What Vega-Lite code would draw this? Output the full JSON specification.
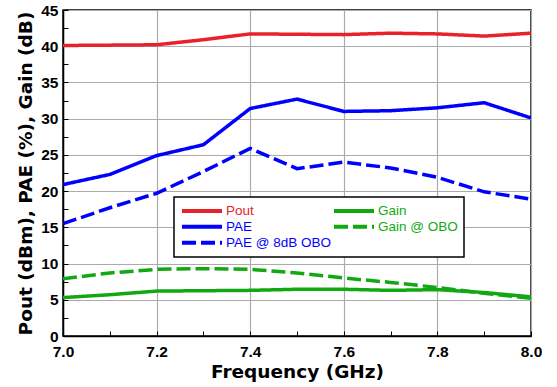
{
  "$schema": "https://vega.github.io/schema/vega-lite/v6.json",
  "width": 468,
  "height": 326,
  "autosize": {"type": "none"},
  "padding": {"left": 63, "top": 10, "right": 26, "bottom": 51},
  "background": "white",
  "config": {
    "font": "Liberation Sans",
    "view": {"stroke": "black", "strokeWidth": 1.5},
    "axis": {
      "labelFont": "Liberation Sans",
      "labelFontWeight": "bold",
      "labelFontSize": 15.5,
      "labelColor": "black",
      "titleFont": "DejaVu Sans",
      "titleFontWeight": "bold",
      "titleFontSize": 18.5,
      "titleColor": "black",
      "domainColor": "black",
      "domainWidth": 1.5,
      "tickColor": "black",
      "tickWidth": 1,
      "gridColor": "#ababab",
      "gridWidth": 1.2
    }
  },
  "data": {
    "values": [
      {"freq": 7.0, "series": "Pout", "value": 40.1},
      {"freq": 7.1, "series": "Pout", "value": 40.15},
      {"freq": 7.2, "series": "Pout", "value": 40.2},
      {"freq": 7.3, "series": "Pout", "value": 40.9},
      {"freq": 7.4, "series": "Pout", "value": 41.7},
      {"freq": 7.5, "series": "Pout", "value": 41.65},
      {"freq": 7.6, "series": "Pout", "value": 41.6},
      {"freq": 7.7, "series": "Pout", "value": 41.8},
      {"freq": 7.8, "series": "Pout", "value": 41.7},
      {"freq": 7.9, "series": "Pout", "value": 41.4},
      {"freq": 8.0, "series": "Pout", "value": 41.8},
      {"freq": 7.0, "series": "PAE", "value": 20.9},
      {"freq": 7.1, "series": "PAE", "value": 22.3},
      {"freq": 7.2, "series": "PAE", "value": 24.9},
      {"freq": 7.3, "series": "PAE", "value": 26.4},
      {"freq": 7.4, "series": "PAE", "value": 31.4},
      {"freq": 7.5, "series": "PAE", "value": 32.7},
      {"freq": 7.6, "series": "PAE", "value": 31.0},
      {"freq": 7.7, "series": "PAE", "value": 31.1},
      {"freq": 7.8, "series": "PAE", "value": 31.5},
      {"freq": 7.9, "series": "PAE", "value": 32.2},
      {"freq": 8.0, "series": "PAE", "value": 30.1},
      {"freq": 7.0, "series": "PAE @ 8dB OBO", "value": 15.5},
      {"freq": 7.1, "series": "PAE @ 8dB OBO", "value": 17.7},
      {"freq": 7.2, "series": "PAE @ 8dB OBO", "value": 19.7},
      {"freq": 7.3, "series": "PAE @ 8dB OBO", "value": 22.7},
      {"freq": 7.4, "series": "PAE @ 8dB OBO", "value": 25.9},
      {"freq": 7.5, "series": "PAE @ 8dB OBO", "value": 23.1},
      {"freq": 7.6, "series": "PAE @ 8dB OBO", "value": 24.0},
      {"freq": 7.7, "series": "PAE @ 8dB OBO", "value": 23.2},
      {"freq": 7.8, "series": "PAE @ 8dB OBO", "value": 21.9},
      {"freq": 7.9, "series": "PAE @ 8dB OBO", "value": 19.9},
      {"freq": 8.0, "series": "PAE @ 8dB OBO", "value": 18.9},
      {"freq": 7.0, "series": "Gain", "value": 5.3},
      {"freq": 7.1, "series": "Gain", "value": 5.7},
      {"freq": 7.2, "series": "Gain", "value": 6.2},
      {"freq": 7.3, "series": "Gain", "value": 6.25},
      {"freq": 7.4, "series": "Gain", "value": 6.3},
      {"freq": 7.5, "series": "Gain", "value": 6.45},
      {"freq": 7.6, "series": "Gain", "value": 6.45},
      {"freq": 7.7, "series": "Gain", "value": 6.3},
      {"freq": 7.8, "series": "Gain", "value": 6.4},
      {"freq": 7.9, "series": "Gain", "value": 6.0},
      {"freq": 8.0, "series": "Gain", "value": 5.4},
      {"freq": 7.0, "series": "Gain @ OBO", "value": 7.9},
      {"freq": 7.1, "series": "Gain @ OBO", "value": 8.7},
      {"freq": 7.2, "series": "Gain @ OBO", "value": 9.2},
      {"freq": 7.3, "series": "Gain @ OBO", "value": 9.3},
      {"freq": 7.4, "series": "Gain @ OBO", "value": 9.2},
      {"freq": 7.5, "series": "Gain @ OBO", "value": 8.7},
      {"freq": 7.6, "series": "Gain @ OBO", "value": 8.0},
      {"freq": 7.7, "series": "Gain @ OBO", "value": 7.4},
      {"freq": 7.8, "series": "Gain @ OBO", "value": 6.7},
      {"freq": 7.9, "series": "Gain @ OBO", "value": 5.9},
      {"freq": 8.0, "series": "Gain @ OBO", "value": 5.2}
    ]
  },
  "mark": {"type": "line", "strokeWidth": 3.5, "interpolate": "linear", "clip": true},
  "encoding": {
    "x": {
      "field": "freq",
      "type": "quantitative",
      "title": "Frequency (GHz)",
      "scale": {"domain": [7.0, 8.0], "nice": false, "zero": false},
      "axis": {
        "values": [7.0, 7.1, 7.2, 7.3, 7.4, 7.5, 7.6, 7.7, 7.8, 7.9, 8.0],
        "format": ".1f",
        "labelOverlap": false,
        "labelFlush": false,
        "tickSize": -5,
        "labelPadding": 13,
        "titlePadding": 3,
        "labelOpacity": {"condition": {"test": "round(datum.value*10) % 2 === 0", "value": 1}, "value": 0},
        "gridOpacity": {"condition": {"test": "round(datum.value*10) % 2 === 0", "value": 1}, "value": 0}
      }
    },
    "y": {
      "field": "value",
      "type": "quantitative",
      "title": "Pout (dBm), PAE (%), Gain (dB)",
      "scale": {"domain": [0, 45], "nice": false},
      "axis": {
        "values": [0, 2.5, 5, 7.5, 10, 12.5, 15, 17.5, 20, 22.5, 25, 27.5, 30, 32.5, 35, 37.5, 40, 42.5, 45],
        "labelOverlap": false,
        "labelFlush": false,
        "tickSize": -5,
        "labelPadding": 10,
        "titlePadding": 5,
        "labelOpacity": {"condition": {"test": "datum.value % 5 === 0", "value": 1}, "value": 0},
        "gridOpacity": {"condition": {"test": "datum.value % 5 === 0", "value": 1}, "value": 0}
      }
    },
    "color": {
      "field": "series",
      "type": "nominal",
      "scale": {
        "domain": ["Pout", "PAE", "PAE @ 8dB OBO", "Gain", "Gain @ OBO"],
        "range": ["#e8212b", "#0000ff", "#0000ff", "#11a811", "#11a811"]
      },
      "legend": {
        "title": null,
        "orient": "none",
        "legendX": 111,
        "legendY": 187,
        "columns": 2,
        "columnPadding": 1,
        "rowPadding": 0,
        "symbolType": "stroke",
        "symbolSize": 1600,
        "symbolStrokeWidth": 4,
        "clipHeight": 15.5,
        "labelOffset": 2,
        "labelFont": "Liberation Sans",
        "labelFontSize": 13.5,
        "padding": 6,
        "strokeColor": "black",
        "fillColor": "white",
        "encode": {
          "legend": {"update": {"strokeWidth": {"value": 1.5}}},
          "labels": {"update": {"fill": {"scale": "color", "field": "value"}}}
        }
      }
    },
    "strokeDash": {
      "field": "series",
      "type": "nominal",
      "scale": {
        "domain": ["Pout", "PAE", "PAE @ 8dB OBO", "Gain", "Gain @ OBO"],
        "range": [[1, 0], [1, 0], [14, 5], [1, 0], [14, 5]]
      },
      "legend": null
    }
  }
}
